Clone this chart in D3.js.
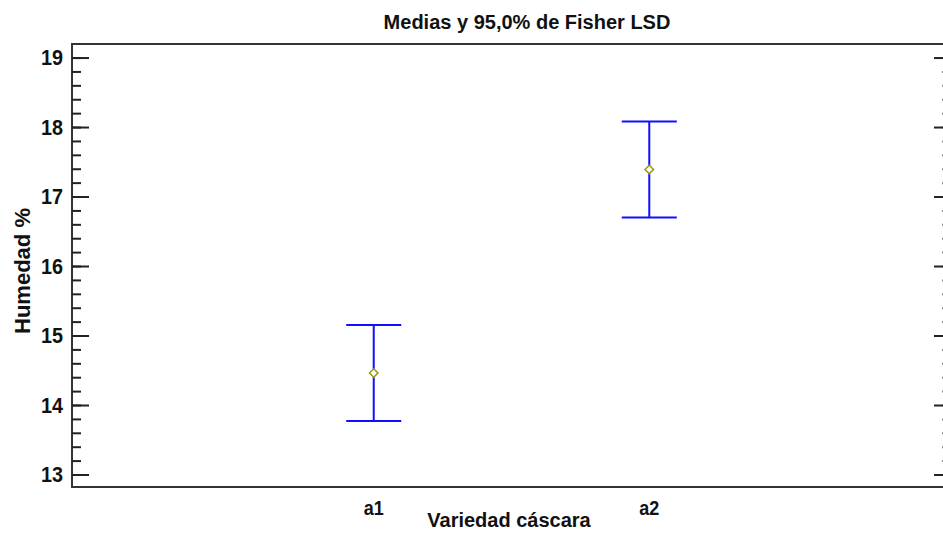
<!DOCTYPE html>
<html>
<head>
<meta charset="utf-8">
<script src="https://cdn.jsdelivr.net/npm/d3@7"></script>
<style>
  body { margin: 0; background: #fff; }
  svg { display: block; font-family: "Liberation Sans", Arial, sans-serif; }
</style>
</head>
<body>
<svg id="chart"></svg>
<script>
const categories = ['a1', 'a2'];
const means = [14.46, 17.39];
const lower = [13.77, 16.70];
const upper = [15.15, 18.08];
const yTicks = [13, 14, 15, 16, 17, 18, 19];
const yMinorTicks = [];
for (let i = 0; i <= 30; i++) yMinorTicks.push(+(13 + i * 0.2).toFixed(1));

const svgWidth = 943;
const svgHeight = 534;
const margin = {top: 44, right: -8, bottom: 47, left: 72};
const width = svgWidth - margin.left - margin.right;
const height = svgHeight - margin.top - margin.bottom;

const svg = d3.select('#chart')
  .attr('width', svgWidth)
  .attr('height', svgHeight);

const chart = svg.append('g')
  .attr('transform', `translate(${margin.left}, ${margin.top})`);

/***************** Scales *************************/
const xScale = d3.scalePoint()
  .domain(categories)
  .range([0, width])
  .padding(1.095);

const yScale = d3.scaleLinear()
  .domain([12.82, 19.195])
  .range([height, 0]);
/**************************************************/

/***************** Frame *************************/
chart.append('rect')
  .attr('x', 0)
  .attr('y', 0)
  .attr('width', width)
  .attr('height', height)
  .style('fill', 'none')
  .style('stroke', '#333')
  .style('stroke-width', 2);
/**************************************************/

/***************** Y axes (ticks inward) ***********/
const tickColor = '#222';
chart.append('g')
  .call(d3.axisRight(yScale).tickValues(yMinorTicks).tickSize(9).tickFormat(''))
  .call(g => g.select('.domain').remove())
  .selectAll('line').style('stroke', tickColor).style('stroke-width', 2);

chart.append('g')
  .call(d3.axisRight(yScale).tickValues(yTicks).tickSize(17).tickFormat(''))
  .call(g => g.select('.domain').remove())
  .selectAll('line').style('stroke', tickColor).style('stroke-width', 2);

chart.append('g')
  .attr('transform', `translate(${width}, 0)`)
  .call(d3.axisLeft(yScale).tickValues(yMinorTicks).tickSize(9).tickFormat(''))
  .call(g => g.select('.domain').remove())
  .selectAll('line').style('stroke', '#888').style('stroke-width', 2);

chart.append('g')
  .attr('transform', `translate(${width}, 0)`)
  .call(d3.axisLeft(yScale).tickValues(yTicks).tickSize(17).tickFormat(''))
  .call(g => g.select('.domain').remove())
  .selectAll('line').style('stroke', tickColor).style('stroke-width', 2);

chart.selectAll('.ylabel')
  .data(yTicks)
  .enter()
  .append('text')
  .attr('class', 'ylabel')
  .attr('transform', d => `translate(-9, ${yScale(d)}) scale(0.9, 1)`)
  .attr('dy', '0.36em')
  .attr('text-anchor', 'end')
  .style('font-size', '22px')
  .style('font-weight', 'bold')
  .style('fill', '#111')
  .text(d => d);
/**************************************************/

/***************** X labels *************************/
chart.selectAll('.xlabel')
  .data(categories)
  .enter()
  .append('text')
  .attr('class', 'xlabel')
  .attr('transform', d => `translate(${xScale(d)}, ${height + 28}) scale(0.9, 1)`)
  .attr('text-anchor', 'middle')
  .style('font-size', '20px')
  .style('font-weight', 'bold')
  .style('fill', '#111')
  .text(d => d);
/**************************************************/

/***************** Error bars *************************/
const capHalf = 27.5;
const bars = chart.selectAll('.bar')
  .data(categories.map((c, i) => ({c, mean: means[i], lo: lower[i], hi: upper[i]})))
  .enter()
  .append('g')
  .attr('class', 'bar')
  .style('stroke', '#1010ff')
  .style('stroke-width', 2);

bars.append('line')
  .attr('x1', d => xScale(d.c))
  .attr('x2', d => xScale(d.c))
  .attr('y1', d => yScale(d.lo))
  .attr('y2', d => yScale(d.hi));

bars.append('line')
  .attr('x1', d => xScale(d.c) - capHalf)
  .attr('x2', d => xScale(d.c) + capHalf)
  .attr('y1', d => yScale(d.hi))
  .attr('y2', d => yScale(d.hi));

bars.append('line')
  .attr('x1', d => xScale(d.c) - capHalf)
  .attr('x2', d => xScale(d.c) + capHalf)
  .attr('y1', d => yScale(d.lo))
  .attr('y2', d => yScale(d.lo));

chart.selectAll('.mean')
  .data(categories.map((c, i) => ({c, mean: means[i]})))
  .enter()
  .append('path')
  .attr('class', 'mean')
  .attr('d', d3.symbol(d3.symbolSquare, 36))
  .attr('transform', d => `translate(${xScale(d.c)}, ${yScale(d.mean)}) rotate(45)`)
  .style('fill', '#fff')
  .style('stroke', '#9a9a10')
  .style('stroke-width', 1.5);
/**************************************************/

/***************** Title and labels *******************/
svg.append('text')
  .attr('x', 527)
  .attr('y', 29)
  .attr('text-anchor', 'middle')
  .style('font-size', '20px')
  .style('font-weight', 'bold')
  .style('fill', '#111')
  .text('Medias y 95,0% de Fisher LSD');

svg.append('text')
  .attr('x', 509)
  .attr('y', 527)
  .attr('text-anchor', 'middle')
  .style('font-size', '20px')
  .style('font-weight', 'bold')
  .style('fill', '#111')
  .text('Variedad cáscara');

svg.append('text')
  .attr('transform', 'translate(30, 271) rotate(-90)')
  .attr('text-anchor', 'middle')
  .style('font-size', '22px')
  .style('font-weight', 'bold')
  .style('fill', '#111')
  .text('Humedad %');
/**************************************************/
</script>
</body>
</html>
